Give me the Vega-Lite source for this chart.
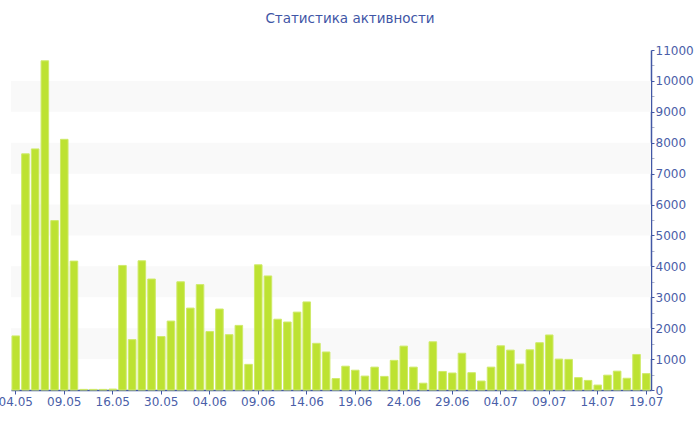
{
  "$schema": "https://vega.github.io/schema/vega-lite/v6.json",
  "width": 640,
  "height": 340,
  "autosize": {"type": "none"},
  "padding": {"left": 11, "top": 50, "right": 49, "bottom": 40},
  "background": "white",
  "title": {
    "text": "Статистика активности",
    "font": "DejaVu Sans",
    "fontSize": 13.5,
    "fontWeight": "normal",
    "color": "#3f56a6",
    "anchor": "middle",
    "dx": 19,
    "offset": 19
  },
  "config": {
    "view": {"stroke": null},
    "axis": {"labelFont": "DejaVu Sans", "labelFontSize": 12, "labelColor": "#4a5ea8", "domainColor": "#4257a5", "tickColor": "#4257a5", "grid": false, "title": null}
  },
  "datasets": {
    "bands": [
      {"lo": 1000, "hi": 2000},
      {"lo": 3000, "hi": 4000},
      {"lo": 5000, "hi": 6000},
      {"lo": 7000, "hi": 8000},
      {"lo": 9000, "hi": 10000}
    ],
    "days": [
      {"d": "04.05", "v": 1750}, {"d": "05.05", "v": 7640}, {"d": "06.05", "v": 7800}, {"d": "07.05", "v": 10650},
      {"d": "08.05", "v": 5480}, {"d": "09.05", "v": 8110}, {"d": "10.05", "v": 4170}, {"d": "11.05", "v": 20},
      {"d": "12.05", "v": 20}, {"d": "13.05", "v": 20}, {"d": "16.05", "v": 30}, {"d": "26.05", "v": 4030},
      {"d": "27.05", "v": 1630}, {"d": "28.05", "v": 4180}, {"d": "29.05", "v": 3590}, {"d": "30.05", "v": 1730},
      {"d": "31.05", "v": 2230}, {"d": "01.06", "v": 3500}, {"d": "02.06", "v": 2650}, {"d": "03.06", "v": 3410},
      {"d": "04.06", "v": 1890}, {"d": "05.06", "v": 2620}, {"d": "06.06", "v": 1790}, {"d": "07.06", "v": 2090},
      {"d": "08.06", "v": 830}, {"d": "09.06", "v": 4050}, {"d": "10.06", "v": 3690}, {"d": "11.06", "v": 2290},
      {"d": "12.06", "v": 2200}, {"d": "13.06", "v": 2520}, {"d": "14.06", "v": 2850}, {"d": "15.06", "v": 1510},
      {"d": "16.06", "v": 1230}, {"d": "17.06", "v": 370}, {"d": "18.06", "v": 770}, {"d": "19.06", "v": 640},
      {"d": "20.06", "v": 450}, {"d": "21.06", "v": 740}, {"d": "22.06", "v": 440}, {"d": "23.06", "v": 960},
      {"d": "24.06", "v": 1420}, {"d": "25.06", "v": 740}, {"d": "26.06", "v": 220}, {"d": "27.06", "v": 1560},
      {"d": "28.06", "v": 600}, {"d": "29.06", "v": 550}, {"d": "30.06", "v": 1190}, {"d": "01.07", "v": 560},
      {"d": "02.07", "v": 290}, {"d": "03.07", "v": 740}, {"d": "04.07", "v": 1430}, {"d": "05.07", "v": 1290},
      {"d": "06.07", "v": 840}, {"d": "07.07", "v": 1300}, {"d": "08.07", "v": 1530}, {"d": "09.07", "v": 1780},
      {"d": "10.07", "v": 1000}, {"d": "11.07", "v": 990}, {"d": "12.07", "v": 400}, {"d": "13.07", "v": 310},
      {"d": "14.07", "v": 160}, {"d": "15.07", "v": 480}, {"d": "16.07", "v": 610}, {"d": "17.07", "v": 380},
      {"d": "18.07", "v": 1150}, {"d": "19.07", "v": 530}
    ]
  },
  "layer": [
    {
      "data": {"name": "bands"},
      "mark": {"type": "rect", "color": "#f9f9f9"},
      "encoding": {
        "y": {
          "field": "lo", "type": "quantitative",
          "scale": {"domain": [0, 11000], "nice": false},
          "axis": {
            "orient": "right",
            "values": [0, 500, 1000, 1500, 2000, 2500, 3000, 3500, 4000, 4500, 5000, 5500, 6000, 6500, 7000, 7500, 8000, 8500, 9000, 9500, 10000, 10500, 11000],
            "labelExpr": "datum.value % 1000 === 0 ? datum.value : ''",
            "tickSize": 3,
            "tickColor": {"condition": {"test": "datum.value % 1000 === 0", "value": "#4257a5"}, "value": "#b0b6cc"},
            "labelPadding": 1,
            "labelFlush": false,
            "labelOverlap": false,
            "domainWidth": 1.5
          }
        },
        "y2": {"field": "hi"}
      }
    },
    {
      "data": {"name": "days"},
      "mark": {"type": "bar", "fill": "#bde232", "stroke": "#cfea6a", "strokeWidth": 1},
      "encoding": {
        "x": {
          "field": "d", "type": "ordinal", "sort": null,
          "scale": {"paddingInner": 0.22, "paddingOuter": 0.1},
          "axis": {
            "values": ["04.05", "09.05", "16.05", "30.05", "04.06", "09.06", "14.06", "19.06", "24.06", "29.06", "04.07", "09.07", "14.07", "19.07"],
            "labelAngle": 0, "tickSize": 4, "labelPadding": 2, "domainWidth": 1.5
          }
        },
        "y": {
          "field": "v", "type": "quantitative",
          "scale": {"domain": [0, 11000], "nice": false},
          "axis": {
            "orient": "right",
            "values": [0, 500, 1000, 1500, 2000, 2500, 3000, 3500, 4000, 4500, 5000, 5500, 6000, 6500, 7000, 7500, 8000, 8500, 9000, 9500, 10000, 10500, 11000],
            "labelExpr": "datum.value % 1000 === 0 ? datum.value : ''",
            "tickSize": 3,
            "tickColor": {"condition": {"test": "datum.value % 1000 === 0", "value": "#4257a5"}, "value": "#b0b6cc"},
            "labelPadding": 1,
            "labelFlush": false,
            "labelOverlap": false,
            "domainWidth": 1.5
          }
        }
      }
    }
  ]
}
